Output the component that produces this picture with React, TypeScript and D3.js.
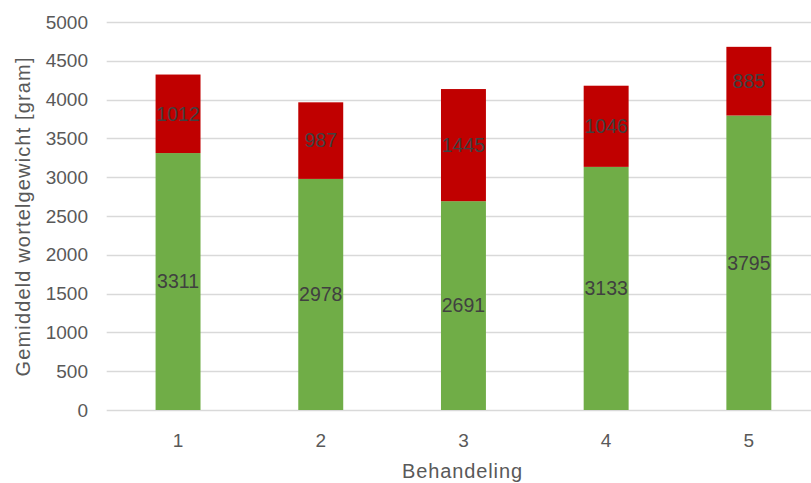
import React, { useEffect, useRef } from 'react';
import * as d3 from 'd3';

const categories = ['1', '2', '3', '4', '5'];
const greenValues = [3311, 2978, 2691, 3133, 3795];
const redValues = [1012, 987, 1445, 1046, 885];
const yTicks = [0, 500, 1000, 1500, 2000, 2500, 3000, 3500, 4000, 4500, 5000];
const xTitle = 'Behandeling';
const yTitle = 'Gemiddeld wortelgewicht [gram]';

const App: React.FC = () => {
  const svgRef = useRef<SVGSVGElement>(null);

  useEffect(() => {
    if (!svgRef.current) return;
    const width = 811;
    const height = 483;
    const font = '"Liberation Sans", Arial, sans-serif';

    const svg = d3.select(svgRef.current)
      .attr('width', width)
      .attr('height', height)
      .html('');

    const x = d3.scaleBand<string>()
      .domain(categories)
      .range([106.7, 820.2])
      .paddingInner(0.685)
      .paddingOuter(0.3425);
    const y = d3.scaleLinear().domain([0, 5000]).range([410, 22]);

    // gridlines
    svg.append('g')
      .selectAll('line')
      .data(yTicks)
      .join('line')
      .attr('x1', 106.7)
      .attr('x2', width)
      .attr('y1', d => Math.round(y(d)) + 0.5)
      .attr('y2', d => Math.round(y(d)) + 0.5)
      .attr('stroke', '#d9d9d9')
      .attr('stroke-width', 1.3);

    // y tick labels
    svg.append('g')
      .selectAll('text')
      .data(yTicks)
      .join('text')
      .attr('x', 88)
      .attr('y', d => y(d))
      .attr('dy', '0.35em')
      .attr('text-anchor', 'end')
      .attr('fill', '#595959')
      .style('font-family', font)
      .style('font-size', '19px')
      .text(d => d);

    const stacked = categories.map((c, i) => ({ c, g: greenValues[i], r: redValues[i] }));

    const bars = svg.append('g');
    bars.selectAll('rect.g')
      .data(stacked)
      .join('rect')
      .attr('class', 'g')
      .attr('x', d => x(d.c)!)
      .attr('width', x.bandwidth())
      .attr('y', d => y(d.g))
      .attr('height', d => y(0) - y(d.g))
      .attr('fill', '#70ad47');
    bars.selectAll('rect.r')
      .data(stacked)
      .join('rect')
      .attr('class', 'r')
      .attr('x', d => x(d.c)!)
      .attr('width', x.bandwidth())
      .attr('y', d => y(d.g + d.r))
      .attr('height', d => y(d.g) - y(d.g + d.r))
      .attr('fill', '#c00000');

    // data labels
    const labels = svg.append('g')
      .attr('fill', '#404040')
      .style('font-family', font)
      .style('font-size', '19.5px')
      .attr('text-anchor', 'middle');
    labels.selectAll('text.g')
      .data(stacked)
      .join('text')
      .attr('class', 'g')
      .attr('x', d => x(d.c)! + x.bandwidth() / 2)
      .attr('y', d => y(d.g / 2))
      .attr('dy', '0.35em')
      .text(d => d.g);
    labels.selectAll('text.r')
      .data(stacked)
      .join('text')
      .attr('class', 'r')
      .attr('x', d => x(d.c)! + x.bandwidth() / 2)
      .attr('y', d => y(d.g + d.r / 2))
      .attr('dy', '0.35em')
      .text(d => d.r);

    // x tick labels
    svg.append('g')
      .selectAll('text')
      .data(categories)
      .join('text')
      .attr('x', d => x(d)! + x.bandwidth() / 2)
      .attr('y', 440)
      .attr('dy', '0.35em')
      .attr('text-anchor', 'middle')
      .attr('fill', '#595959')
      .style('font-family', font)
      .style('font-size', '19px')
      .text(d => d);

    // axis titles
    svg.append('text')
      .attr('x', 462)
      .attr('y', 471)
      .attr('dy', '0.35em')
      .attr('text-anchor', 'middle')
      .attr('fill', '#595959')
      .style('font-family', font)
      .style('font-size', '20px')
      .attr('textLength', 120)
      .text(xTitle);

    svg.append('text')
      .attr('transform', 'translate(23,217) rotate(-90)')
      .attr('dy', '0.35em')
      .attr('text-anchor', 'middle')
      .attr('fill', '#595959')
      .style('font-family', font)
      .style('font-size', '20px')
      .attr('textLength', 319)
      .text(yTitle);
  }, []);

  return (
    <div style={{ position: 'absolute', left: 0, top: 0, width: 811, height: 483, background: '#fff' }}>
      <svg ref={svgRef} style={{ display: 'block' }} />
    </div>
  );
};

export default App;
